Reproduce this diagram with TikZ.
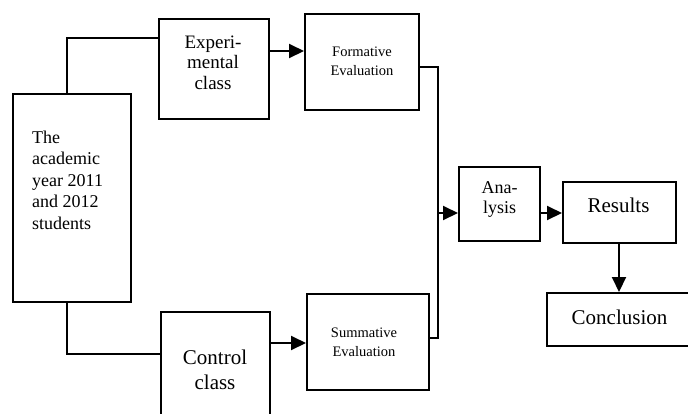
\documentclass[tikz,border=0pt]{standalone}
\usepackage{fontspec}
\setmainfont{Liberation Serif}
\usetikzlibrary{arrows.meta}
\begin{document}
\begin{tikzpicture}[x=1pt,y=-1pt,
  box/.style={draw, line width=2pt, inner sep=0pt, anchor=north west},
  txt/.style={inner sep=0pt, align=center},
  conn/.style={line width=2pt},
  arr/.style={conn, -{Triangle[length=15pt,width=14pt]}}]
\useasboundingbox (0,0) rectangle (688,413);
\clip (0,0) rectangle (688,413);
% boxes
\node[box, minimum width=118pt, minimum height=208pt] (stud) at (12,93) {};
\node[box, minimum width=110pt, minimum height=100pt] (exp) at (158,18) {};
\node[box, minimum width=114pt, minimum height=96pt] (form) at (304,13) {};
\node[box, minimum width=109pt, minimum height=129pt] (ctrl) at (160,311) {};
\node[box, minimum width=122pt, minimum height=96pt] (summ) at (306,293) {};
\node[box, minimum width=81pt, minimum height=74pt] (anal) at (458,166) {};
\node[box, minimum width=113pt, minimum height=61pt] (res) at (562,181) {};
\node[box, minimum width=154pt, minimum height=53pt] (concl) at (546,292) {};
% texts
\node[txt, align=left, anchor=west, font=\fontsize{18}{21.5}\selectfont] (tstud) at (32,180) {The\\academic\\year 2011\\and 2012\\students};
\node[txt, font=\fontsize{19}{20.5}\selectfont] (texp) at (213,62.5) {Experi-\\mental\\class};
\node[txt, font=\fontsize{14.5}{19}\selectfont] (tform) at (362,61.5) {Formative\\Evaluation};
\node[txt, font=\fontsize{14.5}{19}\selectfont] (tsumm) at (364,342.5) {Summative\\Evaluation};
\node[txt, font=\fontsize{21}{25}\selectfont] (tctrl) at (215,370) {Control\\class};
\node[txt, font=\fontsize{18}{20}\selectfont] (tanal) at (499.5,199) {Ana-\\lysis};
\node[txt, font=\fontsize{21}{25}\selectfont] (tres) at (618.5,205) {Results};
\node[txt, font=\fontsize{21}{25}\selectfont] (tconcl) at (619.5,317) {Conclusion};
% coordinates
\coordinate (j1) at (67,38);
\coordinate (j2) at (67,354);
\coordinate (m) at (438,213);
\coordinate (mt) at (438,67);
\coordinate (mb) at (438,338);
% connectors
\draw[conn] (stud.north -| j1) -- (j1) -- (j1 -| exp.west);
\draw[conn] (stud.south -| j2) -- (j2) -- (j2 -| ctrl.west);
\draw[arr] (exp.east |- 0,51) -- (form.west |- 0,51);
\draw[arr] (ctrl.east |- 0,343) -- (summ.west |- 0,343);
\draw[conn] (mt -| form.east) -- (mt) -- (mb) -- (mb -| summ.east);
\draw[arr] (m) -- (m -| anal.west);
\draw[arr] (anal.east |- m) -- (res.west |- m);
\draw[arr] (res.south -| 619,0) -- (concl.north -| 619,0);
\end{tikzpicture}
\end{document}
